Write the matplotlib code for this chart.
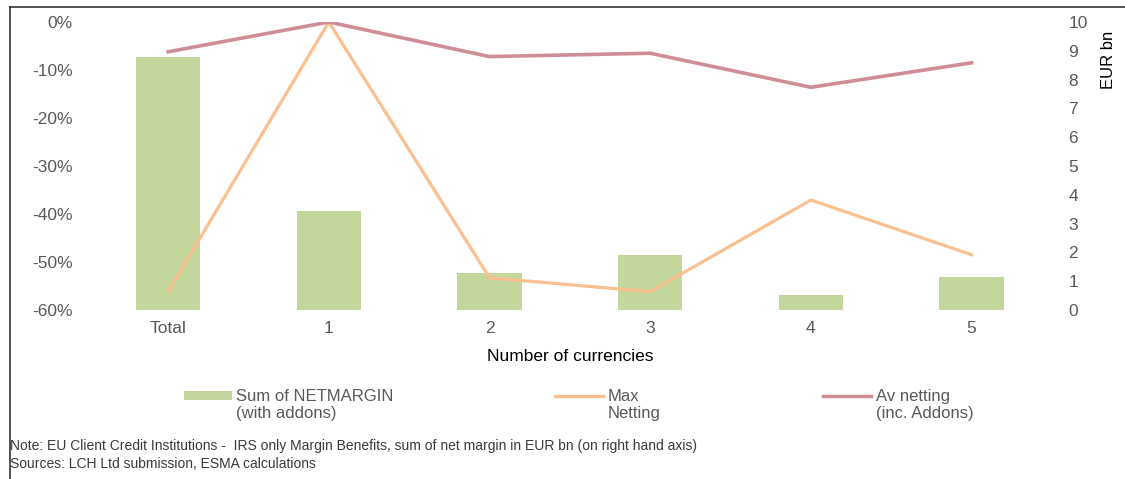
import matplotlib.pyplot as plt
from matplotlib.lines import Line2D
from matplotlib.patches import Patch

plt.rcParams['font.family'] = ['Liberation Sans', 'DejaVu Sans']

# data
categories = ["Total", "1", "2", "3", "4", "5"]
net_margin = [8.8, 3.43, 1.28, 1.9, 0.51, 1.13]          # EUR bn, right axis
max_netting = [-56.2, 0.0, -53.3, -56.2, -37.1, -48.5]    # %, left axis
av_netting = [-6.2, 0.0, -7.2, -6.5, -13.6, -8.5]         # %, left axis

pct_ticks = [0, -10, -20, -30, -40, -50, -60]
eur_ticks = list(range(0, 11))

green = "#C3D69B"
orange = "#FAC090"
pink = "#CF8E96"
grey = "#595959"

fig = plt.figure(figsize=(11.25, 4.79), dpi=100)
ax = fig.add_axes([0.078, 0.353, 0.857, 0.601])
ax2 = ax.twinx()

x = list(range(len(categories)))

# bars on the right axis, lines on the left
ax2.bar(x, net_margin, width=0.4, color=green, zorder=1)
ax2.set_ylim(0, 10)
ax2.set_yticks(eur_ticks)
ax.set_zorder(ax2.get_zorder() + 1)
ax.patch.set_visible(False)

ax.plot(x, max_netting, color=orange, lw=2.3, solid_joinstyle="miter")
ax.plot(x, av_netting, color=pink, lw=2.6, solid_joinstyle="miter")
ax.set_ylim(-60, 0)
ax.set_xlim(-0.5, len(categories) - 0.5)
ax.set_yticks(pct_ticks)
ax.set_yticklabels([f"{t}%" for t in pct_ticks])
ax.set_xticks(x)
ax.set_xticklabels(categories)

for a in (ax, ax2):
    for s in a.spines.values():
        s.set_visible(False)
    a.tick_params(length=0, labelsize=12.5, labelcolor=grey)
ax.tick_params(axis="y", pad=11)
ax.tick_params(axis="x", pad=8)
ax2.tick_params(axis="y", pad=12)

ax.set_xlabel("Number of currencies", fontsize=12.5, color="black", labelpad=9)
fig.text(0.985, 0.875, "EUR bn", rotation=90, ha="center", va="center",
         fontsize=12, color="black")

# legend entries placed one by one, like the reference
handles = [
    Patch(facecolor=green, edgecolor="none"),
    Line2D([0], [0], color=orange, lw=2.5),
    Line2D([0], [0], color=pink, lw=2.5),
]
labels = ["Sum of NETMARGIN\n(with addons)", "Max\nNetting", "Av netting\n(inc. Addons)"]
leg_x = [184, 555, 823]
shift = 7.0  # points: move the key up to the first text line
for h, lab, px in zip(handles, labels, leg_x):
    leg = fig.legend([h], [lab], loc="center left", bbox_to_anchor=(px / 1125, 1 - 405 / 479),
                     frameon=False, fontsize=12, borderpad=0, borderaxespad=0,
                     handlelength=2.85, handleheight=0.4, handletextpad=0.3)
    for t in leg.get_texts():
        t.set_color(grey)
    key = leg.legend_handles[0]
    if isinstance(key, Line2D):
        key.set_ydata([y + shift for y in key.get_ydata()])
    else:
        key.set_y(key.get_y() + shift)

fig.text(0.009, 0.068, "Note: EU Client Credit Institutions -  IRS only Margin Benefits, "
         "sum of net margin in EUR bn (on right hand axis)", fontsize=10, color="#3a3a3a",
         va="center")
fig.text(0.009, 0.031, "Sources: LCH Ltd submission, ESMA calculations", fontsize=10,
         color="#3a3a3a", va="center")

# frame around the chart
fig.add_artist(Line2D([0.009, 0.009], [0.0, 0.986], color="#333333", lw=1.2,
                      transform=fig.transFigure))
fig.add_artist(Line2D([0.009, 1.0], [0.986, 0.986], color="#333333", lw=1.2,
                      transform=fig.transFigure))

fig.savefig("out.png", dpi=100)
